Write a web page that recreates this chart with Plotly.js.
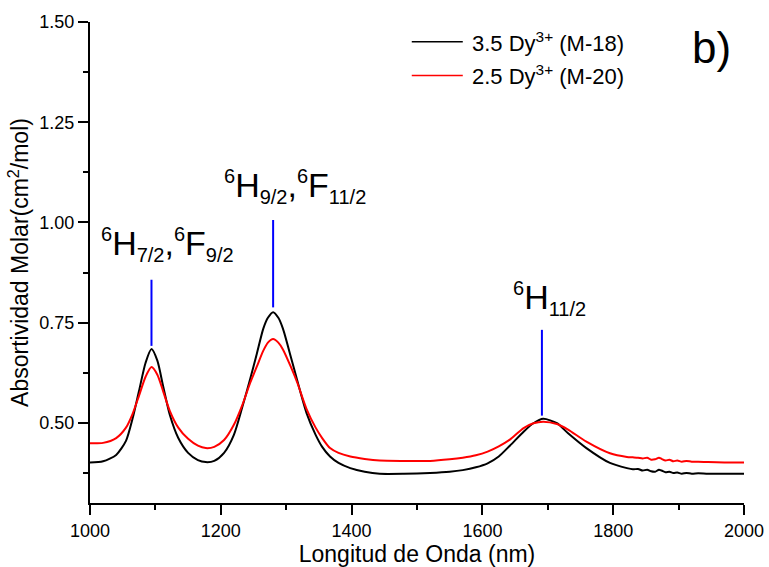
<!DOCTYPE html>
<html>
<head>
<meta charset="utf-8">
<script src="https://cdn.plot.ly/plotly-3.0.1.min.js"></script>
<style>html,body{margin:0;padding:0;background:#fff;}#chart{width:769px;height:567px;}</style>
</head>
<body>
<div id="chart"></div>
<script>
// Wavelength (nm)
const wavelength = [1000,1020,1040,1055,1065,1075,1085,1094,1103,1112,1122,1135,1150,1165,1177,1190,1205,1220,1233,1245,1255,1265,1272,1280,1288,1295,1307,1317,1331,1345,1355,1367,1380,1398,1420,1443,1480,1520,1550,1570,1590,1608,1625,1642,1663,1678,1693,1714,1731,1759,1795,1821,1830,1838,1845,1852,1858,1864,1870,1874,1880,1886,1892,1898,1905,1912,1920,1930,1945,1970,2000];
// 3.5 Dy3+ (M-18)
const seriesM18 = [0.401,0.404,0.420,0.455,0.510,0.580,0.650,0.684,0.655,0.590,0.520,0.462,0.425,0.407,0.402,0.405,0.425,0.470,0.540,0.610,0.672,0.735,0.762,0.776,0.762,0.735,0.665,0.605,0.525,0.470,0.440,0.416,0.400,0.387,0.378,0.373,0.373,0.375,0.378,0.382,0.389,0.399,0.416,0.443,0.478,0.499,0.510,0.499,0.474,0.437,0.400,0.387,0.384,0.385,0.381,0.383,0.379,0.378,0.383,0.381,0.377,0.378,0.375,0.376,0.373,0.375,0.373,0.374,0.373,0.373,0.373];
// 2.5 Dy3+ (M-20)
const seriesM20 = [0.449,0.450,0.462,0.488,0.522,0.568,0.615,0.639,0.620,0.578,0.530,0.488,0.460,0.443,0.437,0.440,0.457,0.495,0.545,0.600,0.640,0.680,0.700,0.709,0.700,0.683,0.640,0.600,0.535,0.488,0.462,0.437,0.425,0.416,0.410,0.406,0.405,0.405,0.409,0.413,0.419,0.428,0.441,0.458,0.487,0.499,0.503,0.497,0.483,0.453,0.424,0.415,0.414,0.413,0.411,0.413,0.408,0.409,0.413,0.410,0.406,0.408,0.404,0.406,0.403,0.405,0.403,0.403,0.402,0.401,0.401];
const seriesNames = ['3.5 Dy<sup>3+</sup> (M-18)', '2.5 Dy<sup>3+</sup> (M-20)'];
// Transition markers
const bandX = [1094, 1280, 1691];
const bandLow = [0.692, 0.788, 0.518];
const bandHigh = [0.857, 1.006, 0.732];
const S = (t) => '<span style="font-size:20px">' + t + '</span>';
const bandLabels = [
  '<sup>' + S('6') + '</sup>H<sub>' + S('7/2') + '</sub>,<sup>' + S('6') + '</sup>F<sub>' + S('9/2') + '</sub>',
  '<sup>' + S('6') + '</sup>H<sub>' + S('9/2') + '</sub>,<sup>' + S('6') + '</sup>F<sub>' + S('11/2') + '</sub>',
  '<sup>' + S('6') + '</sup>H<sub>' + S('11/2') + '</sub>'
];
const labelX = [1118, 1313, 1703];
const labelY = [0.944, 1.090, 0.810];
const yTickVals = [0.50, 0.75, 1.00, 1.25, 1.50];
const yTickText = ['0.50', '0.75', '1.00', '1.25', '1.50'];
const xTickVals = [1000, 1200, 1400, 1600, 1800, 2000];

const font = 'Liberation Sans, Arial, sans-serif';

const traces = [
  {x: wavelength, y: seriesM18, type: 'scatter', mode: 'lines', name: seriesNames[0],
   line: {color: '#000000', width: 2, shape: 'spline', smoothing: 0.7}, showlegend: false},
  {x: wavelength, y: seriesM20, type: 'scatter', mode: 'lines', name: seriesNames[1],
   line: {color: '#ff0000', width: 2, shape: 'spline', smoothing: 0.7}, showlegend: false}
];

const shapes = [];
const annotations = [];
for (let i = 0; i < bandX.length; i++) {
  shapes.push({type: 'line', xref: 'x', yref: 'y', x0: bandX[i], x1: bandX[i], y0: bandLow[i], y1: bandHigh[i],
               line: {color: '#0000ff', width: 2}});
  annotations.push({xref: 'x', yref: 'y', x: labelX[i], y: labelY[i], text: bandLabels[i], showarrow: false,
                    xanchor: 'center', yanchor: 'middle', font: {family: font, size: 34, color: '#000'}});
}
// manual legend
const legColors = ['#000000', '#ff0000'];
const legY = [0.959, 0.889];
for (let i = 0; i < 2; i++) {
  shapes.push({type: 'line', xref: 'paper', yref: 'paper', x0: 0.492, x1: 0.570, y0: legY[i], y1: legY[i],
               line: {color: legColors[i], width: 1.5}});
  annotations.push({xref: 'paper', yref: 'paper', x: 0.581, y: legY[i], text: seriesNames[i], showarrow: false,
                    xanchor: 'left', yanchor: 'middle', font: {family: font, size: 22, color: '#000'}});
}
annotations.push({xref: 'paper', yref: 'paper', x: 0.950, y: 0.946, text: 'b)', showarrow: false,
                  xanchor: 'center', yanchor: 'middle', font: {family: font, size: 44, color: '#000'}});

const layout = {
  width: 769, height: 567,
  margin: {l: 90, r: 25, t: 22, b: 64},
  paper_bgcolor: '#ffffff', plot_bgcolor: '#ffffff',
  font: {family: font, color: '#000'},
  showlegend: false,
  xaxis: {
    range: [1000, 2000], tickvals: xTickVals, ticks: 'outside', ticklen: 10, tickwidth: 2, tickcolor: '#000',
    showline: true, linewidth: 2, linecolor: '#000', showgrid: false, zeroline: false,
    tickfont: {family: font, size: 18, color: '#000'},
    minor: {ticks: 'outside', ticklen: 5, tickwidth: 2, tickcolor: '#000', dtick: 100, showgrid: false},
    title: {text: 'Longitud de Onda (nm)', font: {family: font, size: 23, color: '#000'}, standoff: 6},
    automargin: false
  },
  yaxis: {
    range: [0.3, 1.5], tickvals: yTickVals, ticktext: yTickText, ticks: 'outside', ticklen: 10, tickwidth: 2, tickcolor: '#000',
    showline: true, linewidth: 2, linecolor: '#000', showgrid: false, zeroline: false,
    tickfont: {family: font, size: 18, color: '#000'},
    minor: {ticks: 'outside', ticklen: 5, tickwidth: 2, tickcolor: '#000', tickvals: [0.375, 0.625, 0.875, 1.125, 1.375], showgrid: false},
    title: {text: 'Absortividad Molar(cm<sup>2</sup>/mol)', font: {family: font, size: 23, color: '#000'}, standoff: 4},
    automargin: false
  },
  shapes: shapes,
  annotations: annotations
};

Plotly.newPlot('chart', traces, layout, {staticPlot: true, displayModeBar: false});
</script>
</body>
</html>
